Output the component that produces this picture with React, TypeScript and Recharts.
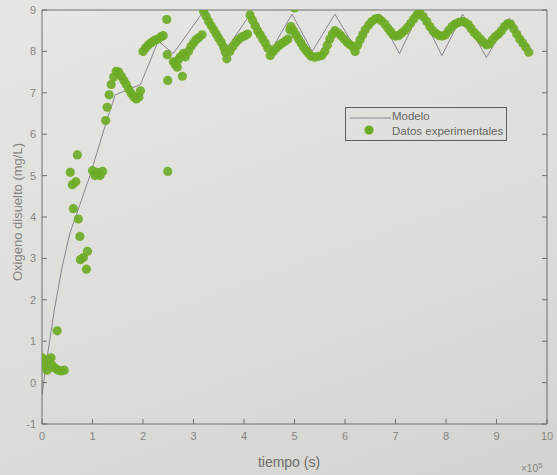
import { ComposedChart, Line, Scatter, XAxis, YAxis } from "recharts";

// tiempo en unidades de 1e5 s
const ticksT = [0, 1, 2, 3, 4, 5, 6, 7, 8, 9, 10];
const ticksO = [-1, 0, 1, 2, 3, 4, 5, 6, 7, 8, 9];

const modeloT = [
  0, 0.1, 0.25, 0.4, 0.55, 0.75, 0.95, 1.15, 1.3, 1.45, 1.95, 2.3, 2.6, 3.2, 3.68, 4.15, 4.55, 4.95,
  5.35, 5.8, 6.22, 6.65, 7.08, 7.48, 7.92, 8.33, 8.8, 9.25, 9.65,
];
const modeloO = [
  -0.3, 0.6, 1.8, 2.8, 3.6, 4.3, 5.0, 5.8, 6.4, 6.95, 7.2, 8.25, 7.95, 8.97, 8.1, 8.95, 8.05, 8.9,
  8.0, 8.9, 8.05, 8.9, 7.95, 8.97, 7.9, 8.9, 7.85, 8.8, 8.05,
];

const datosT = [
  0.0, 0.05, 0.1, 0.12, 0.18, 0.2, 0.25, 0.32, 0.38, 0.44, 0.3,
  0.56, 0.6, 0.67, 0.7, 0.62, 0.72, 0.75, 0.76, 0.82, 0.9, 0.88,
  1.0, 1.05, 1.1, 1.15, 1.2,
  1.26, 1.29, 1.33, 1.37, 1.42, 1.47, 1.52, 1.57, 1.62, 1.67, 1.72, 1.77, 1.82, 1.87, 1.92, 1.95,
  2.0, 2.05, 2.1, 2.15, 2.2, 2.25, 2.3, 2.35, 2.4,
  2.47, 2.48, 2.49, 2.49,
  2.6, 2.64, 2.68, 2.7, 2.74, 2.78, 2.8, 2.84, 2.9, 2.95, 3.0, 3.05, 3.1, 3.17,
  3.2, 3.25, 3.3, 3.35, 3.4, 3.45, 3.5, 3.55, 3.6, 3.63, 3.66,
  3.72, 3.78, 3.84, 3.9, 3.96, 4.02, 4.07,
  4.12, 4.17, 4.22, 4.27, 4.32, 4.37, 4.42, 4.47, 4.52,
  4.58, 4.64, 4.7, 4.76, 4.82, 4.87, 4.91, 5.0,
  4.93, 4.98, 5.03, 5.08, 5.13, 5.18, 5.23, 5.28, 5.33, 5.4, 5.47, 5.54,
  5.6, 5.65, 5.7, 5.75, 5.8, 5.86, 5.92, 5.98, 6.04, 6.1, 6.16, 6.2,
  6.25, 6.3, 6.35, 6.4, 6.47, 6.53, 6.6, 6.66, 6.72, 6.79, 6.85, 6.9, 6.95, 7.0, 7.06, 7.12, 7.18,
  7.24, 7.3, 7.36, 7.42, 7.48,
  7.55, 7.62, 7.68, 7.74, 7.8, 7.87, 7.93, 7.99, 8.05, 8.12, 8.18, 8.25, 8.32, 8.38, 8.44, 8.5, 8.56,
  8.62, 8.68, 8.74, 8.8, 8.86, 8.92, 8.98, 9.04, 9.1, 9.16, 9.22, 9.28, 9.34, 9.4, 9.46, 9.52, 9.58,
  9.64,
];
const datosO = [
  0.6, 0.4, 0.3, 0.55, 0.6, 0.42, 0.35, 0.3, 0.28, 0.3, 1.25,
  5.08, 4.78, 4.85, 5.5, 4.2, 3.95, 3.53, 2.97, 3.02, 3.17, 2.74,
  5.12, 5.0, 5.08, 5.0, 5.1,
  6.33, 6.65, 6.95, 7.2, 7.38, 7.52, 7.5, 7.4, 7.3, 7.2, 7.08, 6.98, 6.9, 6.85, 6.9, 7.05,
  8.0, 8.08, 8.15, 8.2, 8.24, 8.28, 8.3, 8.35, 8.38,
  8.77, 7.92, 7.3, 5.1,
  7.75, 7.68, 7.62, 7.8, 7.87, 7.4, 7.95, 7.87, 8.0, 8.12, 8.2, 8.28, 8.33, 8.4,
  8.97, 8.85, 8.72, 8.62, 8.52, 8.42, 8.32, 8.22, 8.1, 7.98, 7.82,
  8.0, 8.12, 8.22, 8.3, 8.35, 8.38, 8.42,
  8.88, 8.75, 8.62, 8.5, 8.4, 8.3, 8.2, 8.08, 7.9,
  8.0, 8.08, 8.15, 8.2, 8.25, 8.3, 8.52, 9.05,
  8.6, 8.5, 8.4, 8.3, 8.2, 8.1, 8.02, 7.95, 7.88, 7.86, 7.88, 7.9,
  8.0, 8.15, 8.3, 8.42, 8.5, 8.45, 8.38, 8.3, 8.22, 8.16, 8.1, 8.0,
  8.15, 8.28, 8.4, 8.52, 8.64, 8.72, 8.78, 8.8, 8.74, 8.66, 8.56, 8.48, 8.4, 8.37, 8.38, 8.44, 8.5,
  8.58, 8.68, 8.78, 8.88, 8.96,
  8.84, 8.72, 8.6, 8.5, 8.43, 8.38, 8.37, 8.4, 8.5, 8.6, 8.66, 8.7, 8.72, 8.7, 8.65, 8.55, 8.45,
  8.38, 8.3, 8.22, 8.16, 8.18, 8.28, 8.36, 8.42, 8.5, 8.6, 8.67, 8.66, 8.55, 8.42, 8.3, 8.2, 8.1,
  7.98,
];

const modelo = modeloT.map((t, i) => ({ t, o: modeloO[i] }));
const datos = datosT.map((t, i) => ({ t, o: datosO[i] }));

const axisColor = "#6f6f6f";
const textColor = "#858585";
const font = "'Liberation Sans', Arial, sans-serif";
const verde = "#6cab25";

const NoTick = () => null;

const Punto = (props: any) => {
  const { cx, cy } = props;
  if (cx == null || cy == null) return null;
  return <circle cx={cx} cy={cy} r={4.6} fill={verde} opacity={0.92} />;
};

export default function App() {
  return (
    <div
      style={{
        position: "absolute",
        left: 0,
        top: 0,
        width: 557,
        height: 475,
        background: "linear-gradient(160deg, #e6e6e3 0%, #dcdcd8 60%, #d3d3cf 100%)",
        fontFamily: font,
        overflow: "hidden",
      }}
    >
      <ComposedChart width={557} height={475} margin={{ top: 0, right: 0, bottom: 0, left: 0 }}>
        <XAxis
          dataKey="t"
          type="number"
          domain={[0, 10]}
          ticks={ticksT}
          allowDataOverflow
          height={51}
          stroke={axisColor}
          tickSize={-5}
          tickMargin={13}
          tick={{ fill: textColor, fontSize: 11, fontFamily: font }}
        />
        <XAxis
          xAxisId="top"
          orientation="top"
          type="number"
          domain={[0, 10]}
          ticks={ticksT}
          allowDataOverflow
          height={10}
          stroke={axisColor}
          tickSize={-5}
          tick={<NoTick />}
        />
        <YAxis
          type="number"
          domain={[-1, 9]}
          ticks={ticksO}
          allowDataOverflow
          width={42}
          stroke={axisColor}
          tickSize={-5}
          tickMargin={11}
          tick={{ fill: textColor, fontSize: 11, fontFamily: font }}
        />
        <YAxis
          yAxisId="right"
          orientation="right"
          type="number"
          domain={[-1, 9]}
          ticks={ticksO}
          allowDataOverflow
          width={10}
          stroke={axisColor}
          tickSize={-5}
          tick={<NoTick />}
        />
        <Line
          data={modelo}
          dataKey="o"
          type="linear"
          stroke="#8c8392"
          strokeWidth={1}
          dot={false}
          isAnimationActive={false}
        />
        <Scatter data={datos} dataKey="o" shape={<Punto />} isAnimationActive={false} />
      </ComposedChart>

      <div
        style={{
          position: "absolute",
          left: 17,
          top: 212,
          transform: "translate(-50%, -50%) rotate(-90deg)",
          whiteSpace: "nowrap",
          fontSize: 13,
          color: textColor,
        }}
      >
        Oxigeno disuelto (mg/L)
      </div>
      <div
        style={{
          position: "absolute",
          left: 289,
          top: 462,
          transform: "translate(-50%, -50%)",
          whiteSpace: "nowrap",
          fontSize: 14,
          color: "#6f6f6f",
        }}
      >
        tiempo (s)
      </div>
      <div style={{ position: "absolute", left: 521, top: 461, fontSize: 10, color: textColor, whiteSpace: "nowrap" }}>
        ×10<sup style={{ fontSize: 8 }}>5</sup>
      </div>

      <div
        style={{
          position: "absolute",
          left: 345,
          top: 107,
          width: 162,
          height: 34,
          border: "1px solid #5e5e5e",
          boxSizing: "border-box",
          fontSize: 11.5,
          color: "#666",
        }}
      >
        <svg width={48} height={32} style={{ position: "absolute", left: 0, top: 0 }}>
          <line x1={4} x2={45} y1={10} y2={10} stroke="#8c8392" strokeWidth={1} />
          <circle cx={23} cy={22} r={4.6} fill={verde} />
        </svg>
        <div style={{ position: "absolute", left: 46, top: 2, whiteSpace: "nowrap" }}>Modelo</div>
        <div style={{ position: "absolute", left: 46, top: 17, whiteSpace: "nowrap" }}>Datos experimentales</div>
      </div>
    </div>
  );
}
